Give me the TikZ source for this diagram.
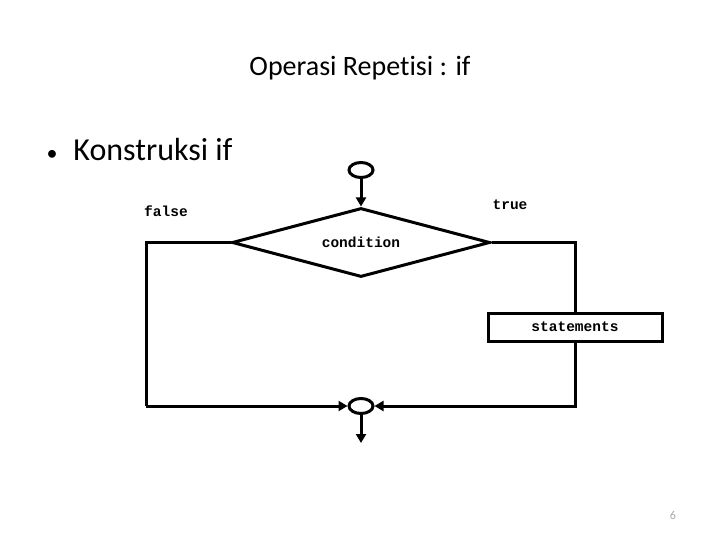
\documentclass[tikz,border=0pt]{standalone}
\usepackage{fontspec}
\setmainfont[Ligatures=NoCommon]{Carlito}
\newfontfamily\codefont{Liberation Mono}
\usetikzlibrary{positioning}
\usetikzlibrary{arrows.meta}
\usetikzlibrary{shapes.geometric}

\begin{document}
\begin{tikzpicture}[
				x=1pt, y=-1pt,
				procbox/.style={rectangle, draw, line width=3pt, minimum width=174pt, minimum height=28pt, inner sep=0pt, font=\codefont\bfseries\fontsize{14.5}{14.5}\selectfont},
				decision/.style={diamond, draw, line width=3pt, minimum width=258pt, minimum height=69pt, inner sep=0pt, aspect=3.7, font=\codefont\bfseries\fontsize{14.5}{14.5}\selectfont},
				junction/.style={ellipse, draw, line width=3pt, minimum width=24pt, minimum height=15pt, inner sep=0pt},
				flowlabel/.style={font=\codefont\bfseries\fontsize{14.5}{14.5}\selectfont},
				line/.style={line width=3pt},
				arrow/.style={line, -{Triangle[length=9pt, width=10pt]}}
			]

			\useasboundingbox (0,0) rectangle (720,540);

			% headings
			\node (title) at (360,68) {\fontsize{28}{32}\selectfont Operasi Repetisi : if};
			\node[anchor=west] (bullet) at (43,150) {{\fontsize{22}{22}\selectfont •}\hspace{16pt}{\fontsize{32}{36}\selectfont Konstruksi if}};

			% flowchart
			\node[junction] (start) at (361,170) {};
			\node[decision] (cond) at (361,242.5) {condition};
			\node[procbox] (stmt) at (575,327) {statements};
			\node[junction] (join) at (361,406) {};
			\coordinate (exit) at (361,443);
			\coordinate (lcorner) at (146,406);

			\node[flowlabel] (false) at (166,211) {false};
			\node[flowlabel] (true) at (510,205) {true};

			\draw[arrow] (start) -- (cond.north);
			\draw[line] (cond.east) -| (stmt.north);
			\draw[arrow] (stmt.south) |- (join.east);
			\draw[line] (cond.west) -| (lcorner);
			\draw[arrow] (lcorner) -- (join.west);
			\draw[arrow] (join) -- (exit);

			\node[text=gray!70] (page) at (673,515) {\fontsize{12}{14}\selectfont 6};

		\end{tikzpicture}
\end{document}
